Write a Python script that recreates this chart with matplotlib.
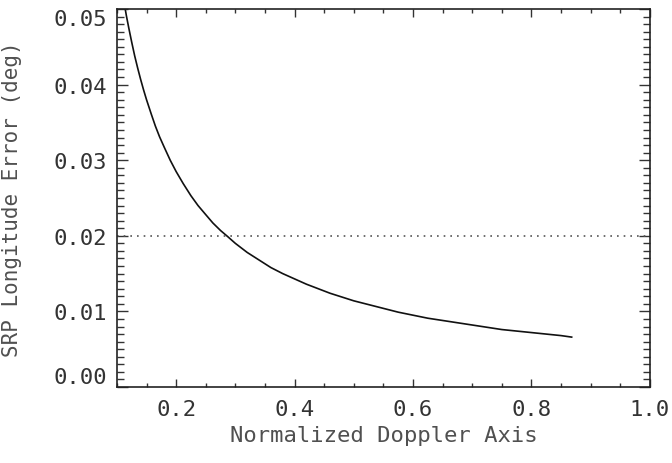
import matplotlib
matplotlib.use("Agg")
import matplotlib.pyplot as plt
from matplotlib.ticker import MultipleLocator, FixedLocator

# Data
doppler = [0.108, 0.112, 0.116, 0.120, 0.125, 0.130, 0.135, 0.140, 0.145, 0.150,
           0.158, 0.165, 0.172, 0.180, 0.190, 0.200, 0.212, 0.225, 0.237, 0.250,
           0.262, 0.275, 0.287, 0.300, 0.320, 0.340, 0.360, 0.380, 0.400, 0.420,
           0.440, 0.460, 0.480, 0.500, 0.525, 0.550, 0.575, 0.600, 0.625, 0.650,
           0.675, 0.700, 0.725, 0.750, 0.775, 0.800, 0.825, 0.850, 0.868]
srp_error = [0.0528, 0.0509, 0.0491, 0.0475, 0.0456, 0.0438, 0.0422, 0.0407, 0.0393, 0.0380,
             0.0361, 0.0345, 0.0331, 0.0317, 0.0300, 0.0285, 0.0269, 0.0253, 0.0240, 0.0228,
             0.0217, 0.0207, 0.0199, 0.0190, 0.0178, 0.0168, 0.0158, 0.0150, 0.0143, 0.0136,
             0.0130, 0.0124, 0.0119, 0.0114, 0.0109, 0.0104, 0.0099, 0.0095, 0.0091, 0.0088,
             0.0085, 0.0082, 0.0079, 0.0076, 0.0074, 0.0072, 0.0070, 0.0068, 0.0066]
threshold = 0.02
x_ticks = [0.2, 0.4, 0.6, 0.8, 1.0]
y_ticks = [0.00, 0.01, 0.02, 0.03, 0.04, 0.05]

fam = ["DejaVu Sans Mono"]
fs = 16
txtc = "#505050"
fig = plt.figure(figsize=(6.72, 4.64), dpi=100)
ax = fig.add_axes([0.174, 0.1638, 0.793, 0.8146])
ax.plot(doppler, srp_error, color="#111111", lw=1.2)
ax.axhline(threshold, color="#555555", lw=1.2, ls=(0, (1, 3)))
ax.set_xlim(0.1, 1.0)
ax.set_ylim(0.0, 0.05)

ax.xaxis.set_major_locator(FixedLocator(x_ticks))
ax.xaxis.set_minor_locator(MultipleLocator(0.05))
ax.yaxis.set_major_locator(FixedLocator(y_ticks))
ax.yaxis.set_minor_locator(MultipleLocator(0.001))
ax.set_xticklabels([f"{v:.1f}" for v in x_ticks], family=fam, fontsize=fs, color=txtc)
ylabs = ax.set_yticklabels([f"{v:.2f}" for v in y_ticks], family=fam, fontsize=fs, color=txtc)
ylabs[0].set_verticalalignment("bottom")
ylabs[-1].set_verticalalignment("top")

ax.tick_params(which="both", direction="in", top=True, right=True, colors="#333333", width=1)
ax.tick_params(axis="x", which="major", length=6, pad=9)
ax.tick_params(axis="x", which="minor", length=3)
ax.tick_params(axis="y", which="major", length=8, pad=7)
ax.tick_params(axis="y", which="minor", length=5)
for s in ax.spines.values():
    s.set_linewidth(1.2)
    s.set_color("#222222")

ax.set_xlabel("Normalized Doppler Axis", fontsize=fs, color=txtc, family=fam, labelpad=4)
ax.set_ylabel("SRP Longitude Error (deg)", fontsize=15, color=txtc, family=fam)
ax.yaxis.set_label_coords(-0.178, 0.5)

fig.savefig("out.png", dpi=100)
